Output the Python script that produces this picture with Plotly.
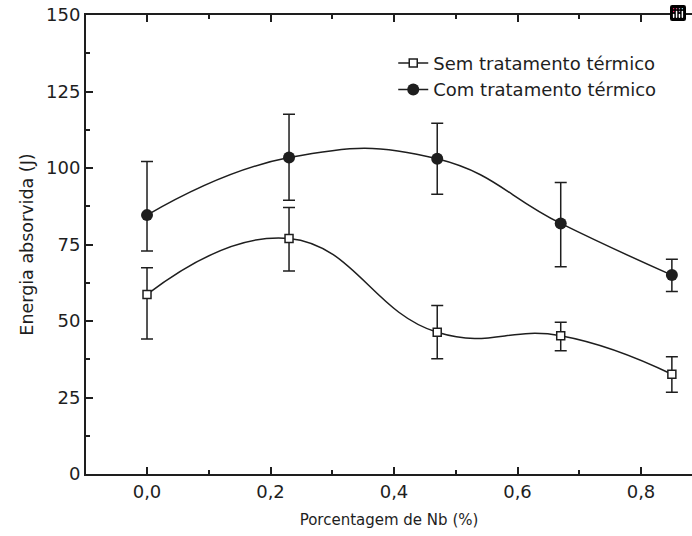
import plotly.graph_objects as go

# ---- data ----
nb_pct = [0.0, 0.23, 0.47, 0.67, 0.85]

sem_name = "Sem tratamento térmico"
sem_energy = [58.7, 77.0, 46.3, 45.2, 32.6]
sem_err_plus = [8.7, 10.1, 8.8, 4.4, 5.7]
sem_err_minus = [14.6, 10.7, 8.6, 4.9, 5.9]

com_name = "Com tratamento térmico"
com_energy = [84.6, 103.4, 103.0, 81.9, 65.0]
com_err_plus = [17.5, 14.2, 11.6, 13.4, 5.2]
com_err_minus = [11.7, 13.9, 11.6, 14.2, 5.4]

x_range = [-0.0988, 0.8826]
x_tickvals = [0.0, 0.2, 0.4, 0.6, 0.8]
x_ticktext = ["0,0", "0,2", "0,4", "0,6", "0,8"]
y_tickvals = [0, 25, 50, 75, 100, 125, 150]
y_ticktext = ["0", "25", "50", "75", "100", "125", "150"]

x_title = "Porcentagem de Nb (%)"
y_title = "Energia absorvida (J)"

INK = "#1e1e1e"
FONT = "DejaVu Sans"

fig = go.Figure()

fig.add_trace(go.Scatter(
    x=nb_pct, y=sem_energy, name=sem_name,
    mode="lines+markers",
    line=dict(color=INK, width=1.5, shape="spline", smoothing=1.3),
    marker=dict(symbol="square", size=8, color="white",
                line=dict(color=INK, width=1.5)),
    error_y=dict(type="data", symmetric=False, array=sem_err_plus,
                 arrayminus=sem_err_minus, color=INK, thickness=1.5, width=6),
))

fig.add_trace(go.Scatter(
    x=nb_pct, y=com_energy, name=com_name,
    mode="lines+markers",
    line=dict(color=INK, width=1.5, shape="spline", smoothing=1.3),
    marker=dict(symbol="circle", size=12, color=INK,
                line=dict(color=INK, width=0)),
    error_y=dict(type="data", symmetric=False, array=com_err_plus,
                 arrayminus=com_err_minus, color=INK, thickness=1.5, width=6),
))

fig.update_layout(
    width=692, height=536,
    margin=dict(l=86, r=0, t=15, b=62),
    paper_bgcolor="white", plot_bgcolor="white",
    font=dict(family=FONT, color=INK, size=18),
    showlegend=True,
    legend=dict(x=0.507, y=0.935, xanchor="left", yanchor="top",
                bgcolor="rgba(0,0,0,0)", font=dict(size=18, color=INK),
                tracegroupgap=0),
    # make the hover toolbar invisible
    modebar=dict(bgcolor="rgba(0,0,0,0)", color="rgba(0,0,0,0)",
                 activecolor="rgba(0,0,0,0)"),
)

fig.update_xaxes(
    range=x_range,
    tickvals=x_tickvals, ticktext=x_ticktext,
    ticks="inside", ticklen=7, tickwidth=1.5, tickcolor=INK,
    minor=dict(dtick=0.1, tick0=0, ticks="inside", ticklen=4,
               tickwidth=1.5, tickcolor=INK),
    showline=True, linewidth=2, linecolor=INK, mirror="ticks",
    showgrid=False, zeroline=False,
    tickfont=dict(size=18, family=FONT, color=INK),
    title=dict(text=x_title, font=dict(size=15, family=FONT, color=INK),
               standoff=14),
)

fig.update_yaxes(
    range=[0, 150],
    tickvals=y_tickvals, ticktext=y_ticktext,
    ticks="inside", ticklen=7, tickwidth=1.5, tickcolor=INK,
    minor=dict(dtick=12.5, tick0=0, ticks="inside", ticklen=4,
               tickwidth=1.5, tickcolor=INK),
    showline=True, linewidth=2, linecolor=INK, mirror=False,
    showgrid=False, zeroline=False,
    tickfont=dict(size=18, family=FONT, color=INK),
    title=dict(text=y_title, font=dict(size=17.5, family=FONT, color=INK),
               standoff=8),
)

# remove the browser's default 8px page margin so the figure sits at (0,0)
fig.write_html(
    "out.html",
    post_script="document.body.style.margin='0';document.body.style.overflow='hidden';",
)
